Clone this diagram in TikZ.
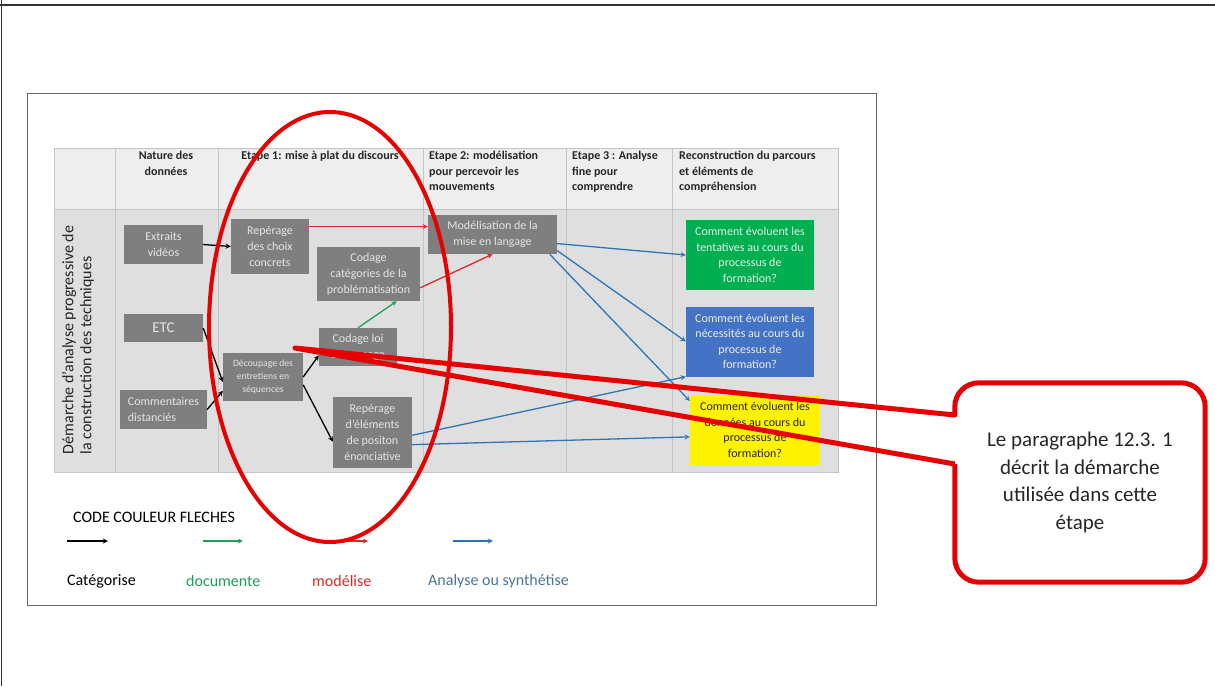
\documentclass[tikz,border=0pt]{standalone}
\usepackage{fontspec}
\setmainfont{Carlito}
\tikzset{>=stealth}
\definecolor{boxgray}{HTML}{7F7F7F}
\definecolor{hdrgray}{HTML}{EEEEEE}
\definecolor{rowgray}{HTML}{DFDFDF}
\definecolor{gridgray}{HTML}{C4C4C4}
\definecolor{qgreen}{HTML}{00B050}
\definecolor{qblue}{HTML}{4472C4}
\definecolor{agreen}{HTML}{1FA055}
\definecolor{ared}{HTML}{D92A2A}
\definecolor{ablue}{HTML}{2E75B6}
\definecolor{ringred}{HTML}{E60000}
\tikzset{
  gbox/.style={fill=boxgray, text=white!90!black, inner sep=0pt, align=center, font=\fontsize{12}{16}\selectfont},
  qbox/.style={inner sep=0pt, align=center, minimum width=128, minimum height=70, text=white!92!black, font=\fontsize{12}{15.5}\selectfont},
  hdr/.style={inner sep=0pt, text=black!85, font=\bfseries\fontsize{12}{15.5}\selectfont},
  arr/.style={->, line width=1.3pt},
  legend/.style={anchor=west, inner sep=0pt, font=\fontsize{16}{19}\selectfont},
}

\begin{document}
\begin{tikzpicture}[x=1pt,y=-1pt]
\useasboundingbox (0,0) rectangle (1215,686);
\fill[white] (0,0) rectangle (1215,686);
\draw[line width=1.5pt, black!80] (0,5) -- (1215,5) (1.5,0) -- (1.5,686);
\draw[black!60] (27,93) rectangle (876,605);
% tableau
\fill[hdrgray] (54,148) rectangle (838,209);
\fill[rowgray] (54,209) rectangle (838,472);
\draw[gridgray] (54,148) rectangle (838,472) (54,209) -- (838,209);
\foreach \x in {115,218,423,566,672} \draw[gridgray] (\x,148) -- (\x,472);
\node[hdr, anchor=north, align=center] (h1) at (166,151) {Nature des\\données};
\node[hdr, anchor=north, align=center] (h2) at (320,151) {Etape 1: mise à plat du discours};
\node[hdr, anchor=north west, align=left] (h3) at (429,151) {Etape 2: modélisation\\pour percevoir les\\mouvements};
\node[hdr, anchor=north west, align=left] (h4) at (572,151) {Etape 3 : Analyse\\fine pour\\comprendre};
\node[hdr, anchor=north west, align=left] (h5) at (679,151) {Reconstruction du parcours\\et éléments de\\compréhension};
\node[rotate=90, align=left, inner sep=0pt, text=black!85, font=\fontsize{16}{18}\selectfont] (side) at (78,340) {Démarche d'analyse progressive de\\la construction des techniques};
% boites
\node[gbox, minimum width=79, minimum height=39] (ext) at (163.5,244.5) {Extraits\\vidéos};
\node[gbox, minimum width=79, minimum height=28, font=\fontsize{15}{18}\selectfont] (etc) at (163.5,328) {ETC};
\node[gbox, minimum width=87, minimum height=39, align=left] (com) at (163.5,409.5) {Commentaires\\distanciés};
\node[gbox, minimum width=78, minimum height=55] (repA) at (270,246.5) {Repérage\\des choix\\concrets};
\node[gbox, minimum width=103, minimum height=54] (cat) at (368.5,274) {Codage\\catégories de la\\problématisation};
\node[gbox, minimum width=80, minimum height=48, font=\fontsize{9.7}{13}\selectfont] (dec) at (263,377) {Découpage des\\entretiens en\\séquences};
\node[gbox, minimum width=78, minimum height=38] (loi) at (358,347) {Codage loi\\de passage};
\node[gbox, minimum width=79, minimum height=71] (repB) at (372.5,432.5) {Repérage\\d'éléments\\de positon\\énonciative};
\node[gbox, minimum width=129, minimum height=39] (mod) at (492.5,234.5) {Modélisation de la\\mise en langage};
\node[qbox, fill=qgreen] (grn) at (750,255) {Comment évoluent les\\tentatives au cours du\\processus de\\formation?};
\node[qbox, fill=qblue] (blu) at (750,341.5) {Comment évoluent les\\nécessités au cours du\\processus de\\formation?};
\node[qbox, fill=yellow, minimum width=130, text=black!85] (yel) at (755,430) {Comment évoluent les\\données au cours du\\processus de\\formation?};
% fleches
\draw[arr] (ext.east) -- (repA.west);
\draw[arr] (etc.east) -- (dec.187);
\draw[arr] (com.east) -- (dec.199);
\draw[arr] (dec.east) -- (loi.192);
\draw[arr] (dec.349) -- (repB.193);
\draw[arr, agreen] (loi.north) -- (cat.316);
\draw[arr, ared] (repA.27) -- (repA.27 -| mod.west);
\draw[arr, ared] (cat.345) -- (mod.south);
\draw[arr, ablue] (mod.352) -- (grn.west);
\draw[arr, ablue] (mod.346) -- (blu.west);
\draw[arr, ablue] (mod.341) -- (yel.156);
\draw[arr, ablue] (repB.356) -- (blu.south west);
\draw[arr, ablue] (repB.343) -- (yel.186);
% legende
\node[legend] (code) at (73,517) {CODE COULEUR FLECHES};
\node[legend] (l1) at (67,581) {Catégorise};
\node[legend, text=agreen] (l2) at (186,581) {documente};
\node[legend, text=ared] (l3) at (312,581) {modélise};
\node[legend, text=ablue!70!black!80] (l4) at (428,581) {Analyse ou synthétise};
\coordinate (k1) at (67,541); \coordinate (k2) at (203,541);
\coordinate (k3) at (328,541); \coordinate (k4) at (453,541);
\draw[arr] (k1) -- ++(41,0);
\draw[arr, agreen] (k2) -- ++(40,0);
\draw[arr, ared] (k3) -- ++(40,0);
\draw[arr, ablue] (k4) -- ++(40,0);
% ellipse et bulle
\draw[ringred, line width=4pt] (330,327) ellipse [x radius=121pt, y radius=215pt];
\coordinate (tip) at (295,348);
\node[align=center, inner sep=0pt, minimum width=250, minimum height=199, text=black!85, font=\fontsize{21}{27.5}\selectfont] (note) at (1080,482.5) {Le paragraphe 12.3. 1\\décrit la démarche\\utilisée dans cette\\étape};
\draw[ringred, line width=5pt, line join=round] ([yshift=18.5pt]note.west) -- (tip) -- ([yshift=67.5pt]note.west) [rounded corners=24pt] -- (note.north west) -- (note.north east) -- (note.south east) -- (note.south west) -- ([yshift=18.5pt]note.west);
\end{tikzpicture}
\end{document}
